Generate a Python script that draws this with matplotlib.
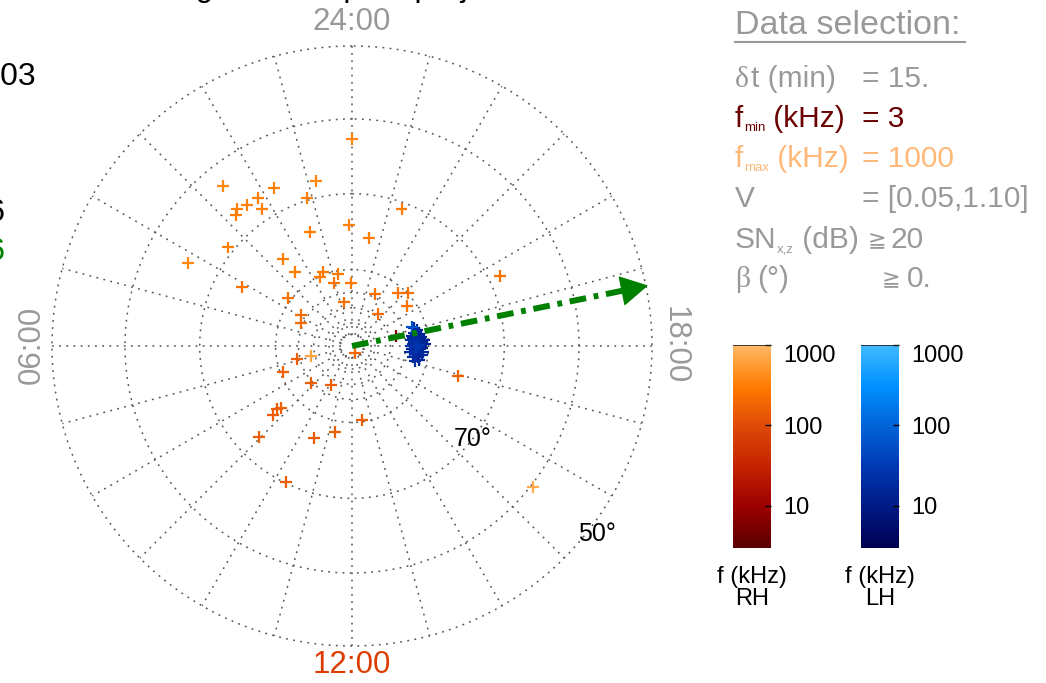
import numpy as np
import matplotlib
matplotlib.use("Agg")
import matplotlib.pyplot as plt
from matplotlib.colors import LinearSegmentedColormap, LogNorm
from matplotlib.cm import ScalarMappable

plt.rcParams['font.family'] = ['Liberation Sans', 'DejaVu Sans']

W, H = 1046, 683

# ---------------- data ----------------
# RH-polarised events: magnetic local time (h), latitude (deg), frequency (kHz)
rh_mlt = [0.00, 2.59, 1.75, 0.82, 2.16, 2.45, 2.67, 2.77, 2.22, 1.13,
          22.67, 0.09, 1.35, 23.41, 3.43, 4.21, 2.56, 2.51, 1.43, 1.66,
          0.73, 1.06, 0.06, 4.12, 22.41, 21.27, 20.89, 3.54, 0.69, 20.40,
          21.39, 3.91, 4.38, 19.69, 13.55, 6.89, 6.91, 7.37, 8.80, 10.11,
          8.74, 8.67, 8.74, 12.51, 11.25, 10.51, 8.96, 10.27, 16.95, 15.47,
          18.85]
rh_lat = [62.7, 62.9, 66.8, 67.8, 66.9, 66.9, 66.5, 67.0, 68.5, 69.7,
          70.9, 74.1, 74.1, 75.7, 69.2, 65.8, 75.5, 77.8, 79.6, 80.05,
          80.4, 81.4, 81.8, 73.6, 82.6, 80.8, 79.9, 79.5, 84.2, 81.1,
          84.6, 82.2, 82.7, 68.5, 89.0, 82.6, 84.5, 80.4, 82.8, 84.2,
          77.7, 77.2, 76.3, 80.2, 78.5, 77.0, 72.9, 70.15, 75.6, 59.7,
          84.1]
rh_freq = [380, 380, 340, 380, 320, 340, 350, 320, 340, 340,
           320, 340, 320, 320, 320, 380, 320, 300, 280, 300,
           280, 260, 300, 260, 250, 260, 250, 250, 230, 250,
           220, 220, 220, 230, 200, 170, 650, 170, 160, 160,
           170, 160, 150, 160, 160, 150, 160, 150, 170, 750,
           5]

# LH-polarised events
lh_mlt = [18.0, 18.1, 17.9, 18.2, 17.8, 18.3, 17.7, 18.4, 17.6, 18.5,
          18.0, 18.1, 17.9, 18.6, 17.5, 18.2, 17.8, 18.7, 17.4, 18.0,
          18.3, 17.7, 18.8, 17.3, 18.5, 17.6, 18.9, 17.2, 18.4, 18.1,
          19.1, 17.1, 18.6, 17.5, 19.17, 18.05, 17.95, 18.25]
lh_lat = [81.5, 81.3, 81.7, 81.6, 81.4, 81.2, 81.8, 81.5, 81.3, 81.9,
          81.0, 82.0, 80.9, 81.4, 81.6, 80.8, 82.1, 81.1, 81.2, 82.3,
          80.6, 80.7, 81.7, 81.9, 80.9, 82.4, 81.3, 81.0, 82.2, 80.4,
          81.6, 81.5, 82.0, 80.8, 81.8, 81.2, 81.6, 81.9]
lh_freq = [15, 18, 14, 20, 16, 15, 17, 14, 19, 16,
           15, 18, 13, 17, 20, 14, 16, 15, 18, 22,
           14, 17, 19, 16, 15, 21, 17, 15, 19, 14,
           18, 20, 16, 17, 60, 25, 30, 22]

arrow_mlt = 18.77            # mean direction (MLT, h)
mlt_labels = ['24:00', '06:00', '12:00', '18:00']
lat_grid = [88.5, 87.0, 85.0, 83.0, 80.0, 70.0, 60.0, 50.0]
lat_labels = [70, 50]
fmin, fmax = 3, 1000
cbar_ticks = [10, 100, 1000]

# ---------------- colours ----------------
rh_cmap = LinearSegmentedColormap.from_list(
    'rh', [(0.0, '#5a0000'), (0.207, '#9c0000'), (0.40, '#c42200'),
           (0.604, '#df4a08'), (0.79, '#ff7a00'), (0.9, '#ff9a30'), (1.0, '#ffb868')])
lh_cmap = LinearSegmentedColormap.from_list(
    'lh', [(0.0, '#000050'), (0.207, '#001a86'), (0.40, '#0038b4'),
           (0.604, '#0064d8'), (0.80, '#0090ff'), (1.0, '#40baff')])
norm = LogNorm(fmin, fmax)
GRAY = '#999999'
GRID = '#555555'

fig = plt.figure(figsize=(W / 100, H / 100), dpi=100)

# ---------------- polar panel (equal-area polar projection) ----------------
cx, cy, R = 352, 346, 300
ax = fig.add_axes([(cx - R) / W, (H - cy - R) / H, 2 * R / W, 2 * R / H],
                  projection='polar')


def fwd(c):
    return np.sin(np.deg2rad(np.clip(c, 0, 179)) / 2)


def inv(s):
    return 2 * np.rad2deg(np.arcsin(np.clip(s, 0, 1)))


ax.set_rscale('function', functions=(fwd, inv))
ax.set_theta_zero_location('N')
ax.set_theta_direction(1)
ax.set_rlim(0, 40)
ax.set_axis_off()

dot = (0, (1.2, 3.5))
tt = np.linspace(0, 2 * np.pi, 721)
for lat in lat_grid:
    ax.plot(tt, np.full_like(tt, 90 - lat), color=GRID, lw=1.1, ls=dot, clip_on=False)
for h in range(24):
    th = np.deg2rad(h * 15)
    ax.plot([th, th], [90 - lat_grid[0], 90 - lat_grid[-1]], color=GRID, lw=1.1, ls=dot)

th_rh = np.deg2rad(np.array(rh_mlt) * 15)
th_lh = np.deg2rad(np.array(lh_mlt) * 15)
ax.scatter(th_rh, 90 - np.array(rh_lat), c=rh_freq, cmap=rh_cmap, norm=norm,
           marker='+', s=70, linewidths=1.6, zorder=4)
ax.scatter(th_lh, 90 - np.array(lh_lat), c=lh_freq, cmap=lh_cmap, norm=norm,
           marker='+', s=75, linewidths=1.6, zorder=4)

th_a = np.deg2rad(arrow_mlt * 15)
ax.plot([th_a, th_a], [0, 36.6], color='#008000', lw=4.3,
        ls=(0, (2.8, 1.3, 0.8, 1.3)), dash_capstyle='butt', zorder=6)
ax.annotate('', xy=(th_a, 40.3), xytext=(th_a, 36.4),
            arrowprops=dict(arrowstyle='-|>,head_length=1.8,head_width=1.0',
                            color='#008000', lw=1, shrinkA=0, shrinkB=0,
                            mutation_scale=10),
            annotation_clip=False, zorder=7)

for lab in lat_labels:
    ax.text(np.deg2rad(15.5 * 15), 90 - lab + (1.2 if lab == 50 else 0), f'{lab}°',
            ha='center', va='center', fontsize=18, color='black', clip_on=False)

# ---------------- overlay for texts (pixel coordinates) ----------------
ov = fig.add_axes([0, 0, 1, 1])
ov.set_xlim(0, W)
ov.set_ylim(H, 0)
ov.set_axis_off()
ov.patch.set_alpha(0)

ov.text(352, 22, mlt_labels[0], ha='center', va='center', fontsize=22.5, color=GRAY)
ov.text(352, 665, mlt_labels[2], ha='center', va='center', fontsize=22.5, color='#dc3c00')
ov.text(32, 345, mlt_labels[1], ha='center', va='center', fontsize=22.5, color=GRAY, rotation=90)
ov.text(675, 345, mlt_labels[3], ha='center', va='center', fontsize=22.5, color=GRAY, rotation=-90)

# texts clipped at the figure's left/top edges
ov.text(36, 77, 'Date 2003', ha='right', va='center', fontsize=23, color='black')
ov.text(5, 213, 'N = 16', ha='right', va='center', fontsize=23, color='black')
ov.text(5, 252, 'N = 16', ha='right', va='center', fontsize=23, color='#008000')
ov.text(352, -4, 'Magnetic footprint projection', ha='center', va='baseline',
        fontsize=23, color='black')

# Data selection panel
ov.text(735, 25, 'Data selection:', ha='left', va='center', fontsize=24.5, color=GRAY)
ov.plot([735, 965], [42, 42], color=GRAY, lw=1.5)

FS = 21.5
SUB = 9.5


def put(x, y, s, color, fs=FS, family=None):
    kw = {}
    if family:
        kw['family'] = family
    return ov.text(x, y, s, ha='left', va='baseline', fontsize=fs, color=color, **kw)


def put_sub(x, y, main, sub, rest, color):
    t1 = put(x, y, main, color)
    t2 = ov.annotate(sub, xy=(1, 0), xycoords=t1, ha='left', va='bottom',
                     fontsize=SUB, color=color, xytext=(0.5, -1), textcoords='offset points')
    ov.annotate(rest, xy=(1, 0), xycoords=(t2, t1), ha='left', va='bottom',
                fontsize=FS, color=color)


b = 7  # baseline offset from line centre
put(735, 80 + b, 'δ', GRAY, family=['Liberation Serif', 'DejaVu Serif'])
put(751, 80 + b, 't (min)', GRAY)
put(862, 80 + b, '= 15.', GRAY)

DR = '#6b0000'
put_sub(735, 120 + b, 'f', 'min', ' (kHz)', DR)
put(862, 120 + b, '= 3', DR)

LO = '#ffb877'
put_sub(735, 160 + b, 'f', 'max', ' (kHz)', LO)
put(862, 160 + b, '= 1000', LO)

put(735, 200 + b, 'V', GRAY)
put(862, 200 + b, '= [0.05,1.10]', GRAY)

put_sub(735, 241 + b, 'SN', 'x,z', ' (dB)', GRAY)
put(868, 241 + b - 1, '≧', GRAY, fs=16, family=['DejaVu Sans'])
put(890, 241 + b, '20', GRAY)

put(735, 280 + b, 'β', GRAY, family=['Liberation Serif', 'DejaVu Serif'])
put(757, 280 + b, '(°)', GRAY)
put(882, 280 + b - 1, '≧', GRAY, fs=16, family=['DejaVu Sans'])
put(907, 280 + b, '0.', GRAY)

# ---------------- colour bars ----------------
for (x0, x1, cmap, lab) in [(733, 771, rh_cmap, 'RH'), (861, 899, lh_cmap, 'LH')]:
    cax = fig.add_axes([x0 / W, (H - 548) / H, (x1 - x0) / W, (548 - 345) / H])
    cb = fig.colorbar(ScalarMappable(norm=norm, cmap=cmap), cax=cax)
    cb.outline.set_visible(False)
    cb.set_ticks(cbar_ticks)
    cb.set_ticklabels([str(t) for t in cbar_ticks])
    cax.minorticks_off()
    cax.tick_params(which='major', direction='in', length=4, width=1,
                    labelsize=17, pad=9, colors='black')
    cax.axhline(fmax, color='#222222', lw=1.2)
    for tl in cax.get_yticklabels():
        if tl.get_text() == '1000':
            tl.set_va('top')
    ov.text((x0 + x1) / 2, 588, 'f (kHz)\n' + lab, ha='center', va='center',
            fontsize=17, linespacing=1.05, color='black')

fig.savefig('out.png', dpi=100)
